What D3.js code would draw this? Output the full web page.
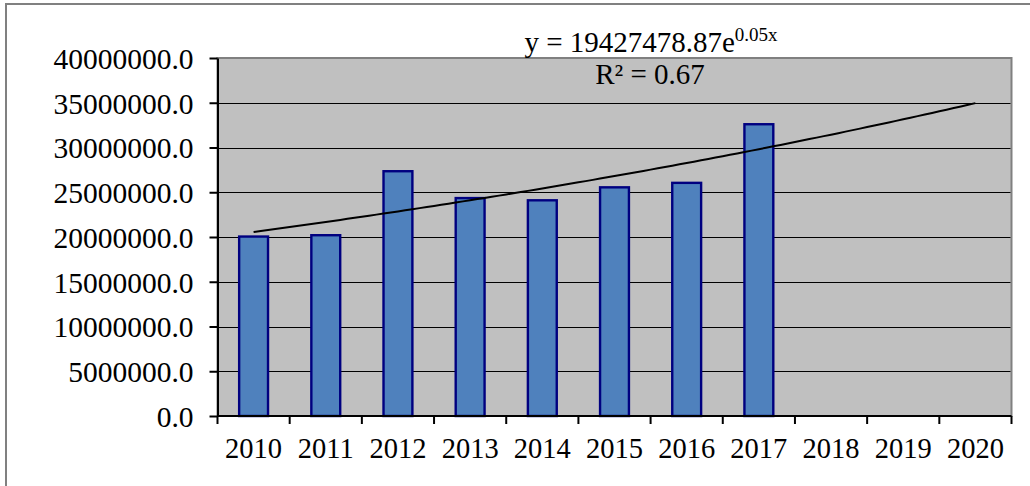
<!DOCTYPE html>
<html>
<head>
<meta charset="utf-8">
<script src="https://cdn.jsdelivr.net/npm/d3@7"></script>
<style>
  html, body { margin: 0; padding: 0; background: #fff; }
  svg { display: block; }
  text { font-family: "Liberation Serif", "Times New Roman", serif; fill: #000; }
</style>
</head>
<body>
<svg id="chart" width="1030" height="486"></svg>
<script>
const categories = ["2010","2011","2012","2013","2014","2015","2016","2017","2018","2019","2020"];
const values = [20050000, 20200000, 27350000, 24350000, 24100000, 25550000, 26050000, 32600000];
const yTicks = [0, 5000000, 10000000, 15000000, 20000000, 25000000, 30000000, 35000000, 40000000];
const equationMain = "y = 19427478.87e";
const equationExp = "0.05x";
const r2Label = "R² = 0.67";

const svg = d3.select("#chart");
const W = 1030, H = 486;
const plot = { left: 217.5, right: 1011.5, top: 58, bottom: 416 };

// outer chart frame (extends past the bottom/right edge)
svg.append("rect").attr("x", 6).attr("y", 4).attr("width", W + 10).attr("height", H + 10)
  .attr("fill", "#fff").attr("stroke", "#808080").attr("stroke-width", 2);

const x = d3.scaleBand().domain(categories).range([plot.left, plot.right]).paddingInner(0).paddingOuter(0);
const y = d3.scaleLinear().domain([0, 40000000]).range([plot.bottom, plot.top]);

// plot area
svg.append("rect").attr("x", plot.left).attr("y", plot.top)
  .attr("width", plot.right - plot.left).attr("height", plot.bottom - plot.top)
  .attr("fill", "#C0C0C0").attr("stroke", "#808080").attr("stroke-width", 2);

// gridlines
svg.append("g").selectAll("line").data(yTicks.filter(d => d > 0 && d < 40000000)).join("line")
  .attr("x1", plot.left).attr("x2", plot.right - 1)
  .attr("y1", d => Math.round(y(d)) + 0.5).attr("y2", d => Math.round(y(d)) + 0.5)
  .attr("stroke", "#000").attr("stroke-width", 1);

// bars
const bw = x.bandwidth() * 0.4;
svg.append("g").selectAll("rect").data(values).join("rect")
  .attr("x", (d, i) => x(categories[i]) + x.bandwidth() / 2 - bw / 2)
  .attr("y", d => y(d))
  .attr("width", bw)
  .attr("height", d => plot.bottom - y(d))
  .attr("fill", "#4F81BD").attr("stroke", "#000080").attr("stroke-width", 2.4);

// exponential trendline fitted from the data (least squares on ln y)
const xs = values.map((d, i) => i + 1);
const ls = values.map(d => Math.log(d));
const mx = d3.mean(xs), ml = d3.mean(ls);
const b = d3.sum(xs.map((v, i) => (v - mx) * (ls[i] - ml))) / d3.sum(xs.map(v => (v - mx) ** 2));
const a = Math.exp(ml - b * mx);
const trendX = d3.range(1, categories.length + 0.001, 0.1);
const xPos = t => plot.left + x.bandwidth() * (t - 0.5);
svg.append("path")
  .datum(trendX)
  .attr("d", d3.line().x(t => xPos(t)).y(t => y(a * Math.exp(b * t))))
  .attr("fill", "none").attr("stroke", "#000").attr("stroke-width", 2);

// y axis
const yAxis = d3.axisLeft(y).tickValues(yTicks).tickSize(8).tickSizeOuter(0)
  .tickFormat(d => d3.format(".1f")(d));
const gy = svg.append("g").attr("transform", `translate(${plot.left},0)`).call(yAxis);
gy.select(".domain").attr("stroke", "#000").attr("stroke-width", 2);
gy.selectAll(".tick line").attr("stroke", "#000").attr("stroke-width", 2);
gy.selectAll(".tick text").attr("x", -24).attr("dy", "0.35em")
  .style("font-family", '"Liberation Serif", serif').style("font-size", "29.5px");

// x axis
const gx = svg.append("g").attr("transform", `translate(0,${plot.bottom})`);
gx.append("line").attr("x1", plot.left).attr("x2", plot.right).attr("y1", 0).attr("y2", 0)
  .attr("stroke", "#000").attr("stroke-width", 2);
const tickPos = d3.range(categories.length + 1).map(i => plot.left + i * x.bandwidth());
gx.selectAll("line.tk").data(tickPos).join("line").attr("class", "tk")
  .attr("x1", d => d).attr("x2", d => d).attr("y1", 0).attr("y2", 8)
  .attr("stroke", "#000").attr("stroke-width", 2);
gx.selectAll("text").data(categories).join("text")
  .attr("x", d => x(d) + x.bandwidth() / 2).attr("y", 42)
  .attr("text-anchor", "middle")
  .style("font-size", "28.5px").text(d => d);

// trendline labels
const eq = svg.append("text").attr("x", 651).attr("y", 52).attr("text-anchor", "middle")
  .style("font-size", "29px");
eq.append("tspan").text(equationMain);
eq.append("tspan").attr("dy", -11).style("font-size", "19px").text(equationExp);
svg.append("text").attr("x", 650).attr("y", 84).attr("text-anchor", "middle")
  .style("font-size", "29px").text(r2Label);
</script>
</body>
</html>
